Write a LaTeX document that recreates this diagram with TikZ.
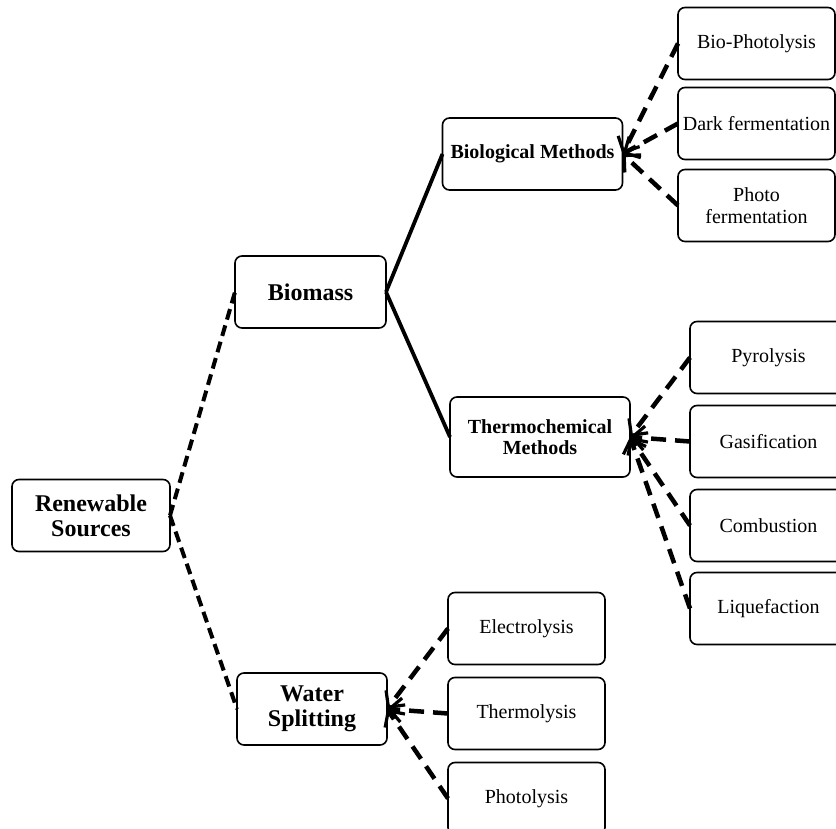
\documentclass[tikz,border=0pt]{standalone}
\usepackage{fontspec}
\setmainfont{Liberation Serif}
\usetikzlibrary{arrows.meta,positioning}

\begin{document}
\begin{tikzpicture}[x=1pt, y=-1pt,
  node distance=12pt,
  box/.style={draw, line width=1.6pt, rounded corners=7pt, minimum height=72pt, align=center, inner sep=2pt, outer sep=0pt},
  mainbox/.style={box, font=\fontsize{24}{25}\selectfont\bfseries},
  methbox/.style={box, minimum width=180pt, font=\fontsize{20}{21}\selectfont\bfseries},
  leaf/.style={box, minimum width=157pt, font=\fontsize{20}{22}\selectfont},
  link/.style={line width=4pt, dash pattern=on 11pt off 6pt},
  branch/.style={line width=3.8pt},
  arrow/.style={line width=4.5pt, dash pattern=on 15pt off 9pt, -{Straight Barb[length=12pt, width=24pt, line width=3.2pt]}}
]
  \useasboundingbox (0,0) rectangle (836,829);

  % main tree
  \node[mainbox, minimum width=158pt] (renew) at (91,515.5) {Renewable\\Sources};
  \node[mainbox, minimum width=151pt] (biomass) at (310.5,292) {Biomass};
  \node[mainbox, minimum width=150pt] (water) at (312,709) {Water\\Splitting};
  \node[methbox] (bio) at (532.5,154) {Biological Methods};
  \node[methbox, minimum height=80pt] (thermo) at (540,437) {Thermochemical\\Methods};

  % leaves
  \node[leaf] (biophoto) at (756.5,43.5) {Bio-Photolysis};
  \node[leaf, below=8pt of biophoto] (dark) {Dark fermentation};
  \node[leaf, below=10pt of dark] (photoferm) {Photo\\fermentation};
  \node[leaf] (pyro) at (768.5,357.5) {Pyrolysis};
  \node[leaf, below=12pt of pyro] (gasif) {Gasification};
  \node[leaf, below=12pt of gasif] (combust) {Combustion};
  \node[leaf, below=11pt of combust] (liquef) {Liquefaction};
  \node[leaf] (electro) at (526.5,628.5) {Electrolysis};
  \node[leaf, below=13pt of electro] (thermol) {Thermolysis};
  \node[leaf, below=13pt of thermol] (photol) {Photolysis};

  % connectors
  \draw[link] (renew.east) -- (biomass.west);
  \draw[link] (renew.east) -- (water.west);
  \draw[branch] (biomass.east) -- (bio.west);
  \draw[branch] (biomass.east) -- (thermo.west);
  \foreach \leafname in {biophoto,dark,photoferm}
    \draw[arrow] (\leafname.west) -- (bio.east);
  \foreach \leafname in {pyro,gasif,combust,liquef}
    \draw[arrow] (\leafname.west) -- (thermo.east);
  \foreach \leafname in {electro,thermol,photol}
    \draw[arrow] (\leafname.west) -- (water.east);
\end{tikzpicture}
\end{document}
